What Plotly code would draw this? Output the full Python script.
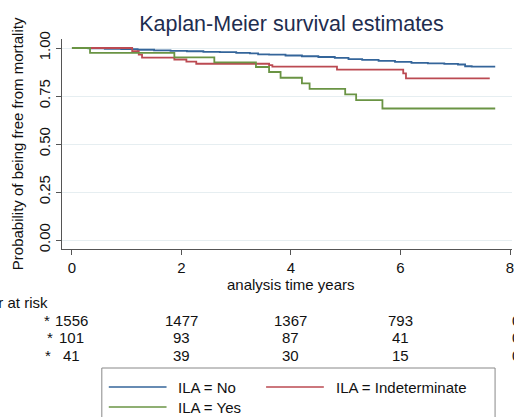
import plotly.graph_objects as go

# ---- data ----
no_t = [0, 0.3, 0.6, 0.9, 1.2, 1.5, 1.8, 2.1, 2.4, 2.7, 3.0, 3.25, 3.4, 3.6, 3.9, 4.2,
        4.5, 4.8, 5.05, 5.3, 5.6, 5.9, 6.2, 6.5, 6.8, 7.05, 7.18, 7.3, 7.73]
no_s = [1.0, 0.998, 0.996, 0.994, 0.991, 0.988, 0.985, 0.983, 0.980, 0.978, 0.975, 0.972,
        0.967, 0.965, 0.961, 0.957, 0.953, 0.949, 0.942, 0.938, 0.933, 0.928, 0.923,
        0.920, 0.917, 0.914, 0.905, 0.903, 0.903]

ind_t = [0, 1.10, 1.22, 1.28, 1.87, 2.09, 2.27, 3.6, 3.66, 4.84, 6.05, 6.1, 7.63]
ind_s = [1.0, 0.984, 0.965, 0.950, 0.940, 0.929, 0.918, 0.911, 0.903, 0.887, 0.868, 0.842, 0.842]

yes_t = [0, 0.33, 1.87, 2.6, 3.36, 3.6, 3.81, 4.2, 4.34, 4.99, 5.19, 5.67, 7.73]
yes_s = [1.0, 0.975, 0.951, 0.925, 0.901, 0.875, 0.845, 0.816, 0.787, 0.758, 0.728, 0.685, 0.685]

series_names = ["ILA = No", "ILA = Indeterminate", "ILA = Yes"]
colors = ["#34659a", "#bb4a52", "#6a9444"]

risk_times = [0, 2, 4, 6, 8]
risk_no = [1556, 1477, 1367, 793, 0]
risk_ind = [101, 93, 87, 41, 0]
risk_yes = [41, 39, 30, 15, 0]

x_ticks = [0, 2, 4, 6, 8]
y_ticks = [0.0, 0.25, 0.5, 0.75, 1.0]
y_ticklabels = ["0.00", "0.25", "0.50", "0.75", "1.00"]

# ---- layout geometry (pixels) ----
W, H = 514, 417
L, R, T, B = 62, 0, 39, 168
PW, PH = W - L - R, H - T - B


def px(xp):
    return (xp - L) / PW


def py(yp):
    return (T + PH - yp) / PH


FONT = "Liberation Sans, Arial, Helvetica, sans-serif"
AXC = "#555555"
TXT = "#111111"

fig = go.Figure()
for t, s, name, c in zip([no_t, ind_t, yes_t], [no_s, ind_s, yes_s], series_names, colors):
    fig.add_trace(go.Scatter(x=t, y=s, mode="lines", name=name,
                             line=dict(color=c, width=1.8, shape="hv"),
                             showlegend=False, hoverinfo="skip"))

annotations = []
# y-axis title
annotations.append(dict(text="Probability of being free from mortality", xref="paper", yref="paper",
                        x=px(17), y=py(144), textangle=-90, showarrow=False,
                        xanchor="center", yanchor="middle",
                        font=dict(size=15, color=TXT, family=FONT)))
# x-axis title
annotations.append(dict(text="analysis time years", xref="paper", yref="paper",
                        x=px(292), y=py(284), showarrow=False,
                        xanchor="center", yanchor="middle",
                        font=dict(size=15, color=TXT, family=FONT)))
# risk table header
annotations.append(dict(text="Number at risk", xref="paper", yref="paper",
                        x=px(50), y=py(302), showarrow=False,
                        xanchor="right", yanchor="middle",
                        font=dict(size=15, color=TXT, family=FONT)))
row_y = [320, 337.5, 355]
star_x = [47, 50, 48]
for vals, ry, sx in zip([risk_no, risk_ind, risk_yes], row_y, star_x):
    annotations.append(dict(text="*", xref="paper", yref="paper", x=px(sx), y=py(ry),
                            showarrow=False, xanchor="center", yanchor="middle",
                            font=dict(size=15, color=TXT, family=FONT)))
    for tt, v in zip(risk_times, vals):
        annotations.append(dict(text=str(v), xref="x", yref="paper", x=tt, y=py(ry),
                                showarrow=False, xanchor="center", yanchor="middle",
                                xshift=6 if tt == 8 else 0,
                                font=dict(size=15, color=TXT, family=FONT)))

# legend (drawn manually)
shapes = [dict(type="rect", xref="paper", yref="paper", x0=px(102), x1=px(497),
               y0=py(440), y1=py(368), line=dict(color="#888888", width=1),
               fillcolor="rgba(0,0,0,0)", layer="above")]
leg_items = [(109, 167, 387, 177), (267, 325, 387, 335), (109, 167, 407, 177)]
for (x0, x1, ly, tx), name, c in zip(leg_items, series_names, colors):
    shapes.append(dict(type="line", xref="paper", yref="paper", x0=px(x0), x1=px(x1),
                       y0=py(ly), y1=py(ly), line=dict(color=c, width=1.6)))
    annotations.append(dict(text=name, xref="paper", yref="paper", x=px(tx), y=py(ly),
                            showarrow=False, xanchor="left", yanchor="middle",
                            font=dict(size=15, color=TXT, family=FONT)))

fig.update_layout(
    width=W, height=H,
    margin=dict(l=L, r=R, t=T, b=B, pad=0),
    paper_bgcolor="white", plot_bgcolor="white",
    title=dict(text="Kaplan-Meier survival estimates", xref="paper", x=px(292.5),
               xanchor="center", yref="container", y=1 - 23 / H, yanchor="middle",
               font=dict(size=21.5, color="#1e2d4f", family=FONT)),
    font=dict(family=FONT, size=15, color=TXT),
    showlegend=False,
    annotations=annotations,
    shapes=shapes,
)
fig.update_xaxes(range=[-10 / 55, (W - 72) / 55], tickvals=x_ticks,
                 ticks="outside", ticklen=5, tickcolor=AXC, tickwidth=1,
                 ticklabeloverflow="allow",
                 showline=True, linecolor=AXC, linewidth=1, showgrid=False, zeroline=False,
                 tickfont=dict(size=15, color=TXT, family=FONT))
fig.update_yaxes(range=[-9 / 192, 1 + 9 / 192], tickvals=y_ticks, ticktext=y_ticklabels,
                 tickangle=-90, ticks="outside", ticklen=5, tickcolor=AXC, tickwidth=1,
                 showline=True, linecolor=AXC, linewidth=1,
                 showgrid=True, gridcolor="#e6eef1", gridwidth=1, zeroline=False,
                 tickfont=dict(size=15, color=TXT, family=FONT))

fig.write_html("out.html", config={"displayModeBar": False},
               post_script="document.body.style.margin='0';document.body.style.overflow='hidden';")
